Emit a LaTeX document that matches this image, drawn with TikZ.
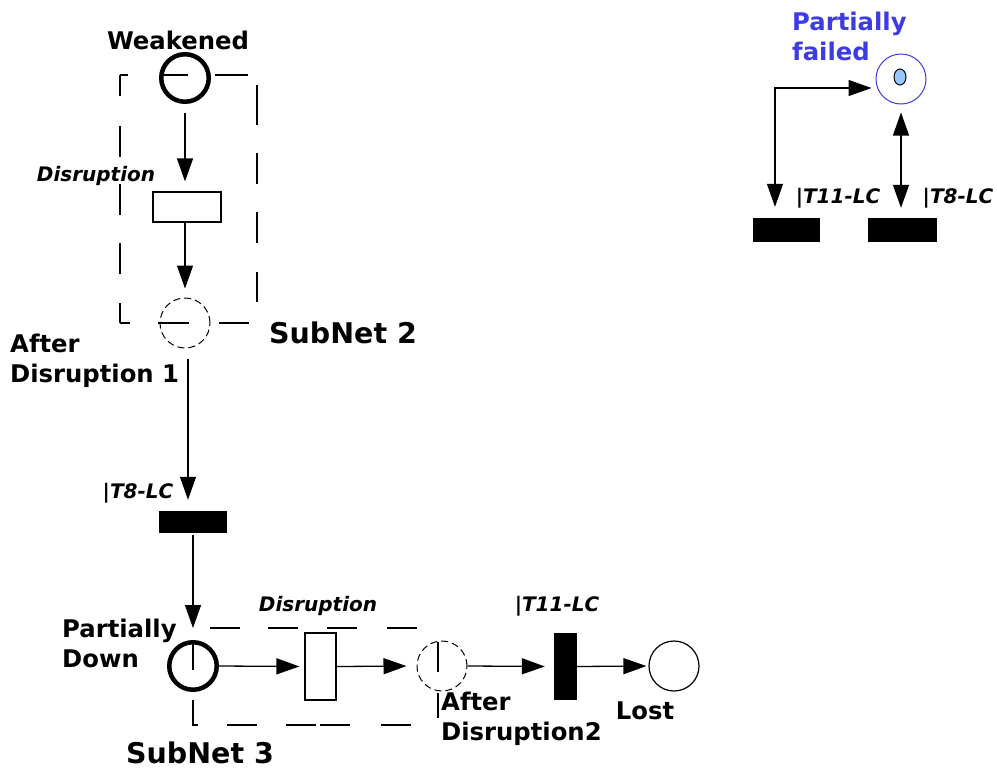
\documentclass[tikz,border=0pt]{standalone}
\usepackage{fontspec}
\setmainfont{DejaVu Sans}
\usetikzlibrary{arrows.meta,shapes.geometric}
\definecolor{pfblue}{RGB}{60,60,225}
\definecolor{tokblue}{RGB}{150,200,255}
\tikzset{
  placeA/.style={circle, draw, line width=1.2pt, minimum size=50pt, inner sep=0pt},
  placeThick/.style={circle, draw, line width=4.5pt, minimum size=47.5pt, inner sep=0pt},
  placeDash/.style={circle, draw, line width=1pt, dash pattern=on 7pt off 4pt, minimum size=50pt, inner sep=0pt},
  transbox/.style={rectangle, draw, line width=1.2pt, fill=white, inner sep=0pt},
  barbox/.style={rectangle, fill=black, inner sep=0pt},
  arc/.style={line width=1.3pt, -{Triangle[length=23pt,width=16pt]}},
  darc/.style={line width=1.3pt, {Triangle[length=23pt,width=16pt]}-{Triangle[length=23pt,width=16pt]}},
  lbl/.style={font=\bfseries\fontsize{24.3}{29.5}\selectfont, inner sep=0pt, align=left},
  sublbl/.style={font=\bfseries\fontsize{28.5}{33}\selectfont, inner sep=0pt},
  ilbl/.style={font=\bfseries\itshape\fontsize{20}{24}\selectfont, inner sep=0pt},
  subbox/.style={line width=1.3pt},
}
\begin{document}
\begin{tikzpicture}[x=1pt,y=-1pt]
\useasboundingbox[fill=white] (0,0) rectangle (997,769);

% SubNet 2 dashed box
\draw[subbox] (120,75)--(128,75) (163,75)--(188,75) (215,75)--(248,75)
  (257,85)--(257,125) (257,153)--(257,184) (257,212)--(257,243) (257,272)--(257,302)
  (130,323)--(120,323) (158,323)--(189,323) (219,323)--(249,323)
  (120,75)--(120,96) (120,126)--(120,157) (120,184)--(120,215) (120,243)--(120,274) (120,303)--(120,323);

% SubNet 3 dashed box
\draw[subbox] (210,628)--(240,628) (268,628)--(298,628) (327,628)--(357,628) (387,628)--(417,628)
  (193,642)--(193,670) (193,700)--(193,725)--(198,725)
  (227,725)--(257,725) (286,725)--(316,725) (320,725)--(350,725) (381,725)--(411,725)
  (438,642)--(438,672) (438,693)--(438,718);

% places and transitions
\node[placeThick] (weak) at (185,78) {};
\node[transbox, minimum width=68pt, minimum height=30pt] (dis1) at (187,207) {};
\node[placeDash] (ad1) at (185,323) {};
\node[barbox, minimum width=68pt, minimum height=22pt] (t8) at (193,522) {};
\node[placeThick] (pd) at (193,666) {};
\node[transbox, minimum width=31pt, minimum height=67pt] (dis2) at (320.5,666.5) {};
\node[placeDash] (ad2) at (442,666) {};
\node[barbox, minimum width=23pt, minimum height=67pt] (t11) at (565.5,666.5) {};
\node[placeA] (lost) at (674,666) {};

\node[circle, draw=pfblue, line width=1pt, minimum size=50pt, inner sep=0pt] (pf) at (901,79) {};
\node[ellipse, draw=black, fill=tokblue, line width=1pt, minimum width=12pt, minimum height=16pt, inner sep=0pt] (tok) at (900,77) {};
\node[barbox, minimum width=67pt, minimum height=24pt] (tb11) at (786.5,230) {};
\node[barbox, minimum width=69pt, minimum height=24pt] (tb8) at (902.5,230) {};
\coordinate (corner) at (775,88);

% arcs
\draw[arc, shorten <=9pt, shorten >=10pt] (weak.south) -- (weak.south |- dis1.north);
\draw[arc, shorten >=9pt] (dis1.south -| ad1.north) -- (ad1.north);
\draw[arc, shorten <=10pt, shorten >=11pt] ([xshift=3pt]ad1.south) -- ([xshift=3pt]ad1.south |- t8.north);
\draw[arc, shorten <=2pt, shorten >=12pt] (t8.south) -- (pd.north);
\draw[arc, shorten >=5pt] (pd.east) -- (dis2.west);
\draw[arc, shorten >=10pt] (dis2.east) -- (ad2.west);
\draw[arc, shorten >=9pt] (ad2.east) -- (t11.west);
\draw[arc, shorten >=2pt] (t11.east) -- (lost.west);

\draw[darc, shorten <=4pt, shorten >=11pt] (pf.west |- corner) -- (corner) -- (corner |- tb11.north);
\draw[darc, shorten <=8pt, shorten >=10pt] (pf.south) -- (pf.south |- tb8.north);

% labels
\node[lbl] (lweak) at (178,40) {Weakened};
\node[ilbl] (ldis1) at (96,176) {Disruption};
\node[lbl, anchor=north west] (lad1) at (10,334) {After\\Disruption 1};
\node[sublbl] (lsub2) at (343,333) {SubNet 2};
\node[ilbl] (lt8) at (138,493) {\textup{|}T8-LC};
\node[lbl, anchor=north west] (lpd) at (62,619) {Partially\\Down};
\node[ilbl] (ldis2) at (318,606) {Disruption};
\node[lbl, anchor=north west] (lad2) at (441,692) {After\\Disruption2};
\node[ilbl] (lt11) at (557,606) {\textup{|}T11-LC};
\node[lbl] (llost) at (645,711) {Lost};
\node[sublbl] (lsub3) at (200,753) {SubNet 3};
\node[lbl, anchor=north west, text=pfblue] (lpf) at (792,12) {Partially\\failed};
\node[ilbl] (ltt11) at (838,198) {\textup{|}T11-LC};
\node[ilbl] (ltt8) at (958,198) {\textup{|}T8-LC};
\end{tikzpicture}
\end{document}
